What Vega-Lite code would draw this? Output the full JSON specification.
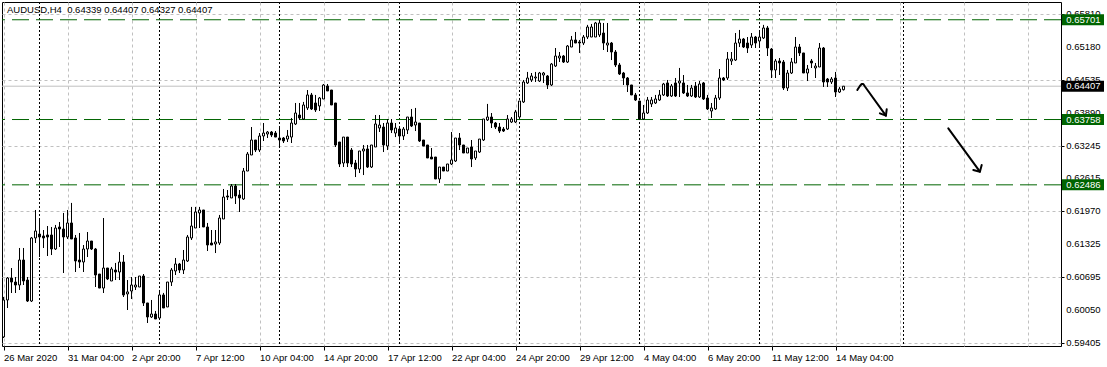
{
  "$schema": "https://vega.github.io/schema/vega-lite/v6.json",
  "width": 1059,
  "height": 344,
  "autosize": "none",
  "padding": {"left": 2, "top": 2, "right": 46, "bottom": 21},
  "background": "white",
  "config": {
    "view": {"stroke": "black", "strokeWidth": 1},
    "axis": {"labelFont": "Liberation Sans", "labelFontSize": 9.5, "labelColor": "black", "tickColor": "black", "gridColor": "#c0c0c0", "gridDash": [3, 3], "gridWidth": 1, "domainColor": "black", "labelOverlap": false, "labelFlush": false, "labelBound": false},
    "text": {"font": "Liberation Sans"}
  },
  "datasets": {
    "candles": [
      {"i":0,"o":0.59523,"h":0.60302,"l":0.59503,"c":0.60243},
      {"i":1,"o":0.60243,"h":0.6069,"l":0.60087,"c":0.60671},
      {"i":2,"o":0.60671,"h":0.60866,"l":0.6038,"c":0.60593},
      {"i":3,"o":0.60593,"h":0.6069,"l":0.6038,"c":0.60535},
      {"i":4,"o":0.60535,"h":0.61256,"l":0.60438,"c":0.61022},
      {"i":5,"o":0.61022,"h":0.61256,"l":0.60535,"c":0.60613},
      {"i":6,"o":0.60632,"h":0.6069,"l":0.60204,"c":0.60223},
      {"i":7,"o":0.60223,"h":0.6147,"l":0.60204,"c":0.61451},
      {"i":8,"o":0.61451,"h":0.61996,"l":0.61353,"c":0.61587},
      {"i":9,"o":0.61528,"h":0.6184,"l":0.6108,"c":0.6147},
      {"i":10,"o":0.6149,"h":0.61606,"l":0.61256,"c":0.61451},
      {"i":11,"o":0.61509,"h":0.61684,"l":0.611,"c":0.6147},
      {"i":12,"o":0.61509,"h":0.61665,"l":0.61119,"c":0.61236},
      {"i":13,"o":0.61236,"h":0.61704,"l":0.61217,"c":0.61645},
      {"i":14,"o":0.61665,"h":0.61762,"l":0.61275,"c":0.61626},
      {"i":15,"o":0.61626,"h":0.61938,"l":0.60769,"c":0.6147},
      {"i":16,"o":0.6147,"h":0.61996,"l":0.61431,"c":0.61743},
      {"i":17,"o":0.61743,"h":0.62133,"l":0.61431,"c":0.61431},
      {"i":18,"o":0.61451,"h":0.61509,"l":0.60788,"c":0.61003},
      {"i":19,"o":0.61022,"h":0.61548,"l":0.60866,"c":0.60983},
      {"i":20,"o":0.60983,"h":0.61314,"l":0.60788,"c":0.61236},
      {"i":21,"o":0.61236,"h":0.61567,"l":0.6108,"c":0.61392},
      {"i":22,"o":0.61392,"h":0.61392,"l":0.61217,"c":0.61236},
      {"i":23,"o":0.61236,"h":0.61256,"l":0.60496,"c":0.6073},
      {"i":24,"o":0.60749,"h":0.60749,"l":0.60476,"c":0.60476},
      {"i":25,"o":0.60476,"h":0.6184,"l":0.6038,"c":0.60866},
      {"i":26,"o":0.60866,"h":0.60866,"l":0.60632,"c":0.60652},
      {"i":27,"o":0.60613,"h":0.60886,"l":0.60613,"c":0.60847},
      {"i":28,"o":0.60827,"h":0.60964,"l":0.60632,"c":0.60788},
      {"i":29,"o":0.60788,"h":0.61178,"l":0.60632,"c":0.60983},
      {"i":30,"o":0.60983,"h":0.61119,"l":0.60302,"c":0.60341},
      {"i":31,"o":0.60361,"h":0.60632,"l":0.60048,"c":0.604},
      {"i":32,"o":0.60418,"h":0.6069,"l":0.60263,"c":0.60535},
      {"i":33,"o":0.60496,"h":0.6069,"l":0.60438,"c":0.60535},
      {"i":34,"o":0.60496,"h":0.6071,"l":0.60496,"c":0.6071},
      {"i":35,"o":0.6071,"h":0.60749,"l":0.60126,"c":0.60185},
      {"i":36,"o":0.60185,"h":0.60185,"l":0.59795,"c":0.59912},
      {"i":37,"o":0.59912,"h":0.60243,"l":0.59892,"c":0.5997},
      {"i":38,"o":0.5997,"h":0.60029,"l":0.59873,"c":0.59873},
      {"i":39,"o":0.59892,"h":0.60438,"l":0.59892,"c":0.60341},
      {"i":40,"o":0.60341,"h":0.6038,"l":0.60087,"c":0.60087},
      {"i":41,"o":0.60107,"h":0.60593,"l":0.60107,"c":0.60593},
      {"i":42,"o":0.60593,"h":0.60866,"l":0.60516,"c":0.60827},
      {"i":43,"o":0.60808,"h":0.61061,"l":0.6073,"c":0.60944},
      {"i":44,"o":0.60944,"h":0.60964,"l":0.60769,"c":0.60827},
      {"i":45,"o":0.60827,"h":0.61217,"l":0.60749,"c":0.61022},
      {"i":46,"o":0.61003,"h":0.61509,"l":0.60983,"c":0.6147},
      {"i":47,"o":0.61451,"h":0.62055,"l":0.61412,"c":0.61684},
      {"i":48,"o":0.61645,"h":0.62055,"l":0.61645,"c":0.61957},
      {"i":49,"o":0.61938,"h":0.62055,"l":0.61645,"c":0.61996},
      {"i":50,"o":0.61996,"h":0.61996,"l":0.61665,"c":0.61665},
      {"i":51,"o":0.61665,"h":0.61743,"l":0.61197,"c":0.61314},
      {"i":52,"o":0.61353,"h":0.61606,"l":0.61314,"c":0.61314},
      {"i":53,"o":0.61334,"h":0.61606,"l":0.61158,"c":0.61373},
      {"i":54,"o":0.61353,"h":0.61899,"l":0.61314,"c":0.6184},
      {"i":55,"o":0.61821,"h":0.62405,"l":0.61821,"c":0.62249},
      {"i":56,"o":0.62269,"h":0.62385,"l":0.62191,"c":0.62249},
      {"i":57,"o":0.6223,"h":0.62502,"l":0.6223,"c":0.62463},
      {"i":58,"o":0.62463,"h":0.62502,"l":0.62113,"c":0.62269},
      {"i":59,"o":0.62288,"h":0.62385,"l":0.61957,"c":0.6223},
      {"i":60,"o":0.6221,"h":0.62814,"l":0.62191,"c":0.62755},
      {"i":61,"o":0.62755,"h":0.63125,"l":0.62755,"c":0.63086},
      {"i":62,"o":0.63067,"h":0.63612,"l":0.63067,"c":0.63359},
      {"i":63,"o":0.63359,"h":0.63359,"l":0.63125,"c":0.63164},
      {"i":64,"o":0.63164,"h":0.63495,"l":0.63125,"c":0.63437},
      {"i":65,"o":0.63437,"h":0.6369,"l":0.6334,"c":0.63495},
      {"i":66,"o":0.63476,"h":0.63534,"l":0.63398,"c":0.63515},
      {"i":67,"o":0.63515,"h":0.63534,"l":0.63417,"c":0.63456},
      {"i":68,"o":0.63495,"h":0.63534,"l":0.63417,"c":0.63417},
      {"i":69,"o":0.63398,"h":0.63612,"l":0.63203,"c":0.63359},
      {"i":70,"o":0.63398,"h":0.63417,"l":0.63301,"c":0.6334},
      {"i":71,"o":0.63378,"h":0.63554,"l":0.6332,"c":0.63437},
      {"i":72,"o":0.63417,"h":0.63788,"l":0.63301,"c":0.6369},
      {"i":73,"o":0.63671,"h":0.6408,"l":0.63651,"c":0.63885},
      {"i":74,"o":0.63846,"h":0.6408,"l":0.63749,"c":0.63788},
      {"i":75,"o":0.63768,"h":0.641,"l":0.63749,"c":0.64041},
      {"i":76,"o":0.63983,"h":0.64333,"l":0.63944,"c":0.64236},
      {"i":77,"o":0.64236,"h":0.64275,"l":0.63944,"c":0.63963},
      {"i":78,"o":0.6408,"h":0.64236,"l":0.63905,"c":0.63944},
      {"i":79,"o":0.64022,"h":0.64197,"l":0.63924,"c":0.64177},
      {"i":80,"o":0.64158,"h":0.6445,"l":0.64158,"c":0.64431},
      {"i":81,"o":0.64411,"h":0.6445,"l":0.64314,"c":0.64314},
      {"i":82,"o":0.64333,"h":0.64333,"l":0.64041,"c":0.64041},
      {"i":83,"o":0.6408,"h":0.6408,"l":0.63223,"c":0.63262},
      {"i":84,"o":0.6332,"h":0.6332,"l":0.62833,"c":0.62892},
      {"i":85,"o":0.62911,"h":0.63417,"l":0.62833,"c":0.63417},
      {"i":86,"o":0.63417,"h":0.63417,"l":0.62833,"c":0.62911},
      {"i":87,"o":0.63164,"h":0.63203,"l":0.62833,"c":0.62892},
      {"i":88,"o":0.62911,"h":0.6297,"l":0.62638,"c":0.62794},
      {"i":89,"o":0.62794,"h":0.63145,"l":0.62716,"c":0.63145},
      {"i":90,"o":0.63145,"h":0.63262,"l":0.62677,"c":0.63184},
      {"i":91,"o":0.63184,"h":0.63262,"l":0.62814,"c":0.62833},
      {"i":92,"o":0.62833,"h":0.63262,"l":0.62814,"c":0.63262},
      {"i":93,"o":0.63223,"h":0.63846,"l":0.63223,"c":0.63671},
      {"i":94,"o":0.63593,"h":0.63846,"l":0.63515,"c":0.63651},
      {"i":95,"o":0.63612,"h":0.6369,"l":0.63125,"c":0.63262},
      {"i":96,"o":0.63242,"h":0.63768,"l":0.63164,"c":0.6369},
      {"i":97,"o":0.6369,"h":0.63768,"l":0.63495,"c":0.63554},
      {"i":98,"o":0.63495,"h":0.6369,"l":0.63417,"c":0.63593},
      {"i":99,"o":0.63573,"h":0.63612,"l":0.6332,"c":0.63437},
      {"i":100,"o":0.63437,"h":0.63612,"l":0.63359,"c":0.63573},
      {"i":101,"o":0.63554,"h":0.63807,"l":0.63476,"c":0.63807},
      {"i":102,"o":0.63807,"h":0.63963,"l":0.63612,"c":0.63632},
      {"i":103,"o":0.63651,"h":0.63983,"l":0.63534,"c":0.6371},
      {"i":104,"o":0.6369,"h":0.6369,"l":0.6332,"c":0.6334},
      {"i":105,"o":0.63359,"h":0.63359,"l":0.63242,"c":0.63242},
      {"i":106,"o":0.63262,"h":0.63262,"l":0.63009,"c":0.63009},
      {"i":107,"o":0.63028,"h":0.63203,"l":0.62989,"c":0.62989},
      {"i":108,"o":0.63028,"h":0.63028,"l":0.626,"c":0.626},
      {"i":109,"o":0.626,"h":0.62833,"l":0.62522,"c":0.62833},
      {"i":110,"o":0.62833,"h":0.62833,"l":0.62755,"c":0.62755},
      {"i":111,"o":0.62755,"h":0.62892,"l":0.62755,"c":0.62892},
      {"i":112,"o":0.62892,"h":0.63515,"l":0.62872,"c":0.6297},
      {"i":113,"o":0.6295,"h":0.63398,"l":0.62931,"c":0.63398},
      {"i":114,"o":0.63398,"h":0.63495,"l":0.63164,"c":0.63262},
      {"i":115,"o":0.63262,"h":0.63262,"l":0.63106,"c":0.63106},
      {"i":116,"o":0.63106,"h":0.63203,"l":0.63106,"c":0.63203},
      {"i":117,"o":0.63223,"h":0.63359,"l":0.62833,"c":0.62989},
      {"i":118,"o":0.63009,"h":0.63145,"l":0.6297,"c":0.63145},
      {"i":119,"o":0.63125,"h":0.63378,"l":0.63106,"c":0.63378},
      {"i":120,"o":0.63359,"h":0.63768,"l":0.6334,"c":0.63768},
      {"i":121,"o":0.63749,"h":0.64061,"l":0.63729,"c":0.63807},
      {"i":122,"o":0.63807,"h":0.63885,"l":0.63593,"c":0.6369},
      {"i":123,"o":0.6369,"h":0.6371,"l":0.63573,"c":0.63612},
      {"i":124,"o":0.63612,"h":0.6369,"l":0.63495,"c":0.63534},
      {"i":125,"o":0.63573,"h":0.63612,"l":0.63515,"c":0.63534},
      {"i":126,"o":0.63573,"h":0.63846,"l":0.63554,"c":0.63768},
      {"i":127,"o":0.6371,"h":0.63807,"l":0.6369,"c":0.63768},
      {"i":128,"o":0.6371,"h":0.63944,"l":0.6369,"c":0.63905},
      {"i":129,"o":0.63807,"h":0.64119,"l":0.63788,"c":0.64119},
      {"i":130,"o":0.641,"h":0.64528,"l":0.6408,"c":0.64489},
      {"i":131,"o":0.6447,"h":0.64684,"l":0.6445,"c":0.64567},
      {"i":132,"o":0.64528,"h":0.64664,"l":0.64489,"c":0.64606},
      {"i":133,"o":0.64567,"h":0.64684,"l":0.64489,"c":0.64586},
      {"i":134,"o":0.64508,"h":0.64684,"l":0.64489,"c":0.64664},
      {"i":135,"o":0.64625,"h":0.64684,"l":0.6447,"c":0.64664},
      {"i":136,"o":0.64606,"h":0.64625,"l":0.64353,"c":0.64431},
      {"i":137,"o":0.64431,"h":0.64859,"l":0.64411,"c":0.64839},
      {"i":138,"o":0.648,"h":0.65151,"l":0.64781,"c":0.64995},
      {"i":139,"o":0.64956,"h":0.65073,"l":0.64878,"c":0.64995},
      {"i":140,"o":0.64995,"h":0.65015,"l":0.64859,"c":0.64878},
      {"i":141,"o":0.64878,"h":0.65209,"l":0.64859,"c":0.6519},
      {"i":142,"o":0.6517,"h":0.65385,"l":0.6517,"c":0.65307},
      {"i":143,"o":0.65307,"h":0.65463,"l":0.65248,"c":0.65248},
      {"i":144,"o":0.65268,"h":0.65307,"l":0.65054,"c":0.65248},
      {"i":145,"o":0.65248,"h":0.65404,"l":0.65209,"c":0.65365},
      {"i":146,"o":0.65365,"h":0.656,"l":0.65326,"c":0.6556},
      {"i":147,"o":0.65365,"h":0.65619,"l":0.65365,"c":0.6556},
      {"i":148,"o":0.65365,"h":0.65658,"l":0.65365,"c":0.65638},
      {"i":149,"o":0.65404,"h":0.65697,"l":0.65365,"c":0.65638},
      {"i":150,"o":0.65443,"h":0.65638,"l":0.65112,"c":0.65248},
      {"i":151,"o":0.65209,"h":0.65638,"l":0.65073,"c":0.65248},
      {"i":152,"o":0.65248,"h":0.65268,"l":0.64917,"c":0.65073},
      {"i":153,"o":0.65073,"h":0.65112,"l":0.64781,"c":0.6482},
      {"i":154,"o":0.6482,"h":0.64859,"l":0.64625,"c":0.64645},
      {"i":155,"o":0.64664,"h":0.64684,"l":0.64431,"c":0.64567},
      {"i":156,"o":0.64567,"h":0.64586,"l":0.64294,"c":0.64431},
      {"i":157,"o":0.64431,"h":0.64431,"l":0.64236,"c":0.64236},
      {"i":158,"o":0.64236,"h":0.64275,"l":0.64119,"c":0.64138},
      {"i":159,"o":0.64119,"h":0.64119,"l":0.63749,"c":0.63768},
      {"i":160,"o":0.63768,"h":0.64041,"l":0.63749,"c":0.63885},
      {"i":161,"o":0.63885,"h":0.64197,"l":0.63866,"c":0.64138},
      {"i":162,"o":0.64061,"h":0.64197,"l":0.64002,"c":0.64138},
      {"i":163,"o":0.6408,"h":0.64236,"l":0.64061,"c":0.64158},
      {"i":164,"o":0.64138,"h":0.64333,"l":0.64119,"c":0.64236},
      {"i":165,"o":0.64236,"h":0.6447,"l":0.64216,"c":0.6445},
      {"i":166,"o":0.6447,"h":0.64528,"l":0.64197,"c":0.64216},
      {"i":167,"o":0.64216,"h":0.6445,"l":0.64197,"c":0.64411},
      {"i":168,"o":0.6447,"h":0.64567,"l":0.64197,"c":0.64216},
      {"i":169,"o":0.6447,"h":0.64762,"l":0.64197,"c":0.64508},
      {"i":170,"o":0.6447,"h":0.64625,"l":0.64255,"c":0.64275},
      {"i":171,"o":0.64275,"h":0.64431,"l":0.64197,"c":0.64216},
      {"i":172,"o":0.64216,"h":0.64431,"l":0.64197,"c":0.64372},
      {"i":173,"o":0.64411,"h":0.64489,"l":0.64177,"c":0.64197},
      {"i":174,"o":0.64197,"h":0.64508,"l":0.64177,"c":0.6445},
      {"i":175,"o":0.6447,"h":0.64489,"l":0.64138,"c":0.64158},
      {"i":176,"o":0.64177,"h":0.64236,"l":0.63944,"c":0.63963},
      {"i":177,"o":0.63924,"h":0.6408,"l":0.63788,"c":0.63983},
      {"i":178,"o":0.63963,"h":0.64236,"l":0.63944,"c":0.64177},
      {"i":179,"o":0.64177,"h":0.64742,"l":0.64138,"c":0.64567},
      {"i":180,"o":0.64567,"h":0.64586,"l":0.64508,"c":0.64528},
      {"i":181,"o":0.64567,"h":0.65073,"l":0.64528,"c":0.64937},
      {"i":182,"o":0.64898,"h":0.65073,"l":0.6482,"c":0.64937},
      {"i":183,"o":0.64917,"h":0.65443,"l":0.64898,"c":0.65248},
      {"i":184,"o":0.65248,"h":0.65502,"l":0.6517,"c":0.65326},
      {"i":185,"o":0.65326,"h":0.65346,"l":0.65151,"c":0.6517},
      {"i":186,"o":0.65248,"h":0.65365,"l":0.65054,"c":0.65151},
      {"i":187,"o":0.65209,"h":0.65443,"l":0.65151,"c":0.65365},
      {"i":188,"o":0.65365,"h":0.65385,"l":0.65151,"c":0.65248},
      {"i":189,"o":0.65287,"h":0.65463,"l":0.6517,"c":0.65365},
      {"i":190,"o":0.65346,"h":0.656,"l":0.65326,"c":0.65541},
      {"i":191,"o":0.65541,"h":0.6558,"l":0.64995,"c":0.65151},
      {"i":192,"o":0.65131,"h":0.65151,"l":0.64567,"c":0.64723},
      {"i":193,"o":0.64723,"h":0.64937,"l":0.64567,"c":0.64898},
      {"i":194,"o":0.64898,"h":0.64956,"l":0.64625,"c":0.64859},
      {"i":195,"o":0.64878,"h":0.64917,"l":0.64333,"c":0.64372},
      {"i":196,"o":0.64372,"h":0.64723,"l":0.64314,"c":0.64664},
      {"i":197,"o":0.64664,"h":0.64956,"l":0.64645,"c":0.64878},
      {"i":198,"o":0.64859,"h":0.65365,"l":0.64859,"c":0.6517},
      {"i":199,"o":0.6517,"h":0.65229,"l":0.64995,"c":0.65054},
      {"i":200,"o":0.65054,"h":0.65054,"l":0.64664,"c":0.64664},
      {"i":201,"o":0.64664,"h":0.6482,"l":0.64508,"c":0.64742},
      {"i":202,"o":0.64898,"h":0.64937,"l":0.64762,"c":0.64859},
      {"i":203,"o":0.64762,"h":0.64859,"l":0.64567,"c":0.648},
      {"i":204,"o":0.64781,"h":0.65248,"l":0.64781,"c":0.65151},
      {"i":205,"o":0.65151,"h":0.6517,"l":0.64392,"c":0.64489},
      {"i":206,"o":0.64547,"h":0.64567,"l":0.64392,"c":0.64489},
      {"i":207,"o":0.64489,"h":0.64586,"l":0.6445,"c":0.64547},
      {"i":208,"o":0.64567,"h":0.64684,"l":0.64197,"c":0.64294},
      {"i":209,"o":0.64294,"h":0.64392,"l":0.64275,"c":0.64353},
      {"i":210,"o":0.64339,"h":0.64407,"l":0.64327,"c":0.64407}
    ],
    "seps": [{"i":9},{"i":39},{"i":69},{"i":99},{"i":129},{"i":159},{"i":189},{"i":225}],
    "yticks": [{"v":0.59405},{"v":0.6005},{"v":0.60695},{"v":0.61325},{"v":0.6197},{"v":0.62615},{"v":0.63245},{"v":0.6389},{"v":0.64535},{"v":0.6518},{"v":0.6581}],
    "levels": [
      {"p":0.65701,"kind":"level"},
      {"p":0.63758,"kind":"level"},
      {"p":0.62486,"kind":"level"},
      {"p":0.64407,"kind":"bid"}
    ],
    "arrows": [
      {"seg":"a1","k":0,"u":213.45,"p":0.64333},
      {"seg":"a1","k":1,"u":214.1,"p":0.64411},
      {"seg":"a1","k":2,"u":214.55,"p":0.6445},
      {"seg":"a1","k":3,"u":214.95,"p":0.6445},
      {"seg":"a1","k":4,"u":215.4,"p":0.64397},
      {"seg":"a1","k":5,"u":220.6,"p":0.63833},
      {"seg":"a1h","k":0,"u":219.1,"p":0.63879},
      {"seg":"a1h","k":1,"u":220.6,"p":0.63833},
      {"seg":"a1h","k":2,"u":220.8,"p":0.63957},
      {"seg":"a2","k":0,"u":236.2,"p":0.63587},
      {"seg":"a2","k":1,"u":244.1,"p":0.62742},
      {"seg":"a2h","k":0,"u":242.45,"p":0.62775},
      {"seg":"a2h","k":1,"u":244.1,"p":0.62742},
      {"seg":"a2h","k":2,"u":244.55,"p":0.62872}
    ]
  },
  "layer": [
    {
      "data": {"name": "candles"},
      "mark": {"type": "rule", "color": "black", "strokeWidth": 1},
      "encoding": {
        "x": {
          "field": "i", "type": "quantitative",
          "scale": {"domain": [-0.375, 264.375], "nice": false, "zero": false, "padding": 0},
          "axis": {
            "title": null, "orient": "bottom", "grid": true, "domain": false,
            "values": [0,8,16,24,32,40,48,56,64,72,80,88,96,104,112,120,128,136,144,152,160,168,176,184,192,200,208,216,224,232,240,248,256,264],
            "tickSize": 4, "tickColor": "black",
            "tickOpacity": {"condition": {"test": "datum.value % 16 === 0 && datum.value <= 208", "value": 1}, "value": 0},
            "labelExpr": "datum.value % 16 === 0 && datum.value <= 208 ? ['26 Mar 2020','31 Mar 04:00','2 Apr 20:00','7 Apr 12:00','10 Apr 04:00','14 Apr 20:00','17 Apr 12:00','22 Apr 04:00','24 Apr 20:00','29 Apr 12:00','4 May 04:00','6 May 20:00','11 May 12:00','14 May 04:00'][datum.value / 16] : ''",
            "labelAlign": "left", "labelBaseline": "top", "labelPadding": 2,
            "labelOverlap": false, "labelFlush": false, "labelBound": false
          }
        },
        "y": {
          "field": "l", "type": "quantitative",
          "scale": {"domain": [0.59347, 0.66047], "nice": false, "zero": false, "padding": 0},
          "axis": {
            "title": null, "orient": "right", "grid": true, "domain": false,
            "values": [0.59405, 0.6005, 0.60695, 0.61325, 0.6197, 0.62615, 0.63245, 0.6389, 0.64535, 0.6518, 0.6581],
            "labels": false, "tickSize": 3, "tickColor": "black"
          }
        },
        "y2": {"field": "h"}
      }
    },
    {
      "data": {"name": "yticks"},
      "mark": {"type": "text", "align": "left", "baseline": "middle", "fontSize": 9.5, "color": "black"},
      "encoding": {
        "x": {"datum": 265.7, "type": "quantitative", "scale": {"domain": [-0.375, 264.375], "nice": false, "zero": false, "padding": 0}},
        "y": {"field": "v", "type": "quantitative", "scale": {"domain": [0.59347, 0.66047], "nice": false, "zero": false, "padding": 0}},
        "text": {"field": "v", "type": "quantitative", "format": ".5f"}
      }
    },
    {
      "data": {"name": "seps"},
      "mark": {"type": "rule", "color": "black", "strokeWidth": 1, "strokeDash": [2, 2]},
      "encoding": {
        "x": {"field": "i", "type": "quantitative", "scale": {"domain": [-0.375, 264.375], "nice": false, "zero": false, "padding": 0}}
      }
    },
    {
      "data": {"name": "levels"},
      "transform": [{"filter": "datum.kind === 'bid'"}],
      "mark": {"type": "rule", "color": "#c0c0c0", "strokeWidth": 1},
      "encoding": {
        "y": {"field": "p", "type": "quantitative", "scale": {"domain": [0.59347, 0.66047], "nice": false, "zero": false, "padding": 0}}
      }
    },
    {
      "data": {"name": "levels"},
      "transform": [{"filter": "datum.kind === 'level'"}],
      "mark": {"type": "rule", "color": "#006400", "strokeWidth": 1, "strokeDash": [17, 7]},
      "encoding": {
        "y": {"field": "p", "type": "quantitative", "scale": {"domain": [0.59347, 0.66047], "nice": false, "zero": false, "padding": 0}}
      }
    },
    {
      "data": {"name": "candles"},
      "mark": {"type": "rule", "color": "black", "strokeWidth": 1},
      "encoding": {
        "x": {"field": "i", "type": "quantitative", "scale": {"domain": [-0.375, 264.375], "nice": false, "zero": false, "padding": 0}},
        "y": {"field": "l", "type": "quantitative", "scale": {"domain": [0.59347, 0.66047], "nice": false, "zero": false, "padding": 0}},
        "y2": {"field": "h"}
      }
    },
    {
      "data": {"name": "candles"},
      "mark": {"type": "bar", "width": 2, "stroke": "black", "strokeWidth": 1, "orient": "vertical"},
      "encoding": {
        "x": {"field": "i", "type": "quantitative", "scale": {"domain": [-0.375, 264.375], "nice": false, "zero": false, "padding": 0}},
        "y": {"field": "o", "type": "quantitative", "scale": {"domain": [0.59347, 0.66047], "nice": false, "zero": false, "padding": 0}},
        "y2": {"field": "c"},
        "fill": {"condition": {"test": "datum.c >= datum.o", "value": "white"}, "value": "black"}
      }
    },
    {
      "data": {"name": "arrows"},
      "mark": {"type": "line", "color": "black", "strokeWidth": 2, "strokeCap": "round", "strokeJoin": "round"},
      "encoding": {
        "x": {"field": "u", "type": "quantitative", "scale": {"domain": [-0.375, 264.375], "nice": false, "zero": false, "padding": 0}},
        "y": {"field": "p", "type": "quantitative", "scale": {"domain": [0.59347, 0.66047], "nice": false, "zero": false, "padding": 0}},
        "detail": {"field": "seg", "type": "nominal"},
        "order": {"field": "k", "type": "quantitative"}
      }
    },
    {
      "data": {"values": [{}]},
      "mark": {"type": "text", "text": "AUDUSD,H4\u00a0 0.64339 0.64407 0.64327 0.64407", "align": "left", "baseline": "middle", "fontSize": 9.5, "color": "black"},
      "encoding": {
        "x": {"datum": 0.875, "type": "quantitative", "scale": {"domain": [-0.375, 264.375], "nice": false, "zero": false, "padding": 0}},
        "y": {"datum": 0.65891, "type": "quantitative", "scale": {"domain": [0.59347, 0.66047], "nice": false, "zero": false, "padding": 0}}
      }
    },
    {
      "data": {"name": "levels"},
      "mark": {"type": "bar", "orient": "horizontal", "height": 11},
      "encoding": {
        "x": {"datum": 264.625, "type": "quantitative", "scale": {"domain": [-0.375, 264.375], "nice": false, "zero": false, "padding": 0}},
        "x2": {"datum": 275.125},
        "y": {"field": "p", "type": "quantitative", "scale": {"domain": [0.59347, 0.66047], "nice": false, "zero": false, "padding": 0}},
        "fill": {"condition": {"test": "datum.kind === 'bid'", "value": "black"}, "value": "#006400"}
      }
    },
    {
      "data": {"name": "levels"},
      "mark": {"type": "text", "align": "left", "baseline": "middle", "fontSize": 9.5, "color": "white"},
      "encoding": {
        "x": {"datum": 265.7, "type": "quantitative", "scale": {"domain": [-0.375, 264.375], "nice": false, "zero": false, "padding": 0}},
        "y": {"field": "p", "type": "quantitative", "scale": {"domain": [0.59347, 0.66047], "nice": false, "zero": false, "padding": 0}},
        "text": {"field": "p", "type": "quantitative", "format": ".5f"}
      }
    }
  ]
}
